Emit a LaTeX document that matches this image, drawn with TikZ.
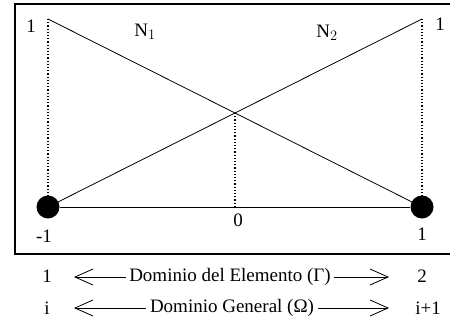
\documentclass[tikz,border=0pt]{standalone}
\usepackage{fontspec}
\setmainfont{Liberation Serif}
\usetikzlibrary{arrows.meta,calc}
\tikzset{
  nodo/.style={circle,fill=black,inner sep=0pt,minimum size=23pt},
  barb/.style={-{Straight Barb[length=18pt,width=16pt]},line width=0.8pt},
  guia/.style={dotted,line width=1.2pt}
}
\begin{document}
\begin{tikzpicture}[x=1pt,y=-1pt,font=\fontsize{19}{22}\selectfont,line width=0.8pt]
  \useasboundingbox (0,0) rectangle (450,324);
  \draw[line width=2pt] (450,4)--(14.5,4)--(14.5,253.5)--(450,253.5);
  % nodos del elemento
  \node[nodo] (n1) at (48,207) {};
  \node[nodo] (n2) at (422,207) {};
  \coordinate (t1) at (48,19);
  \coordinate (t2) at (422,19);
  \coordinate (m) at ($(t1)!0.5!(n2)$);
  \draw (n1)--(n2);
  \draw (t1)--(n2.center);
  \draw (t2)--(n1.center);
  \draw[guia] (t1)--(n1);
  \draw[guia] (t2)--(n2);
  \draw[guia] (m)--(m|-n1);
  % etiquetas
  \node (u1) at (31,26) {1};
  \node (u2) at (440,24) {1};
  \node (f1) at (145,32) {N$_1$};
  \node (f2) at (327,33) {N$_2$};
  \node (x1) at (44,236) {-1};
  \node (x0) at (238,220) {0};
  \node (x2) at (422,234) {1};
  % dominios
  \node (a1) at (47,276) {1};
  \node (a2) at (422,276) {2};
  \node (b1) at (47,308) {i};
  \node (b2) at (428,308) {i+1};
  \node[inner sep=3pt] (de) at (230,277) {Dominio del Elemento (Γ)};
  \node[inner sep=4pt] (dg) at (232,308) {Dominio General (Ω)};
  \coordinate (p1) at (74,277);
  \coordinate (p2) at (389,277);
  \coordinate (q1) at (74,308);
  \coordinate (q2) at (389,308);
  \draw[barb] (de.west)--(p1);
  \draw[barb] (de.east)--(p2);
  \draw[barb] (dg.west)--(q1);
  \draw[barb] (dg.east)--(q2);
\end{tikzpicture}
\end{document}
